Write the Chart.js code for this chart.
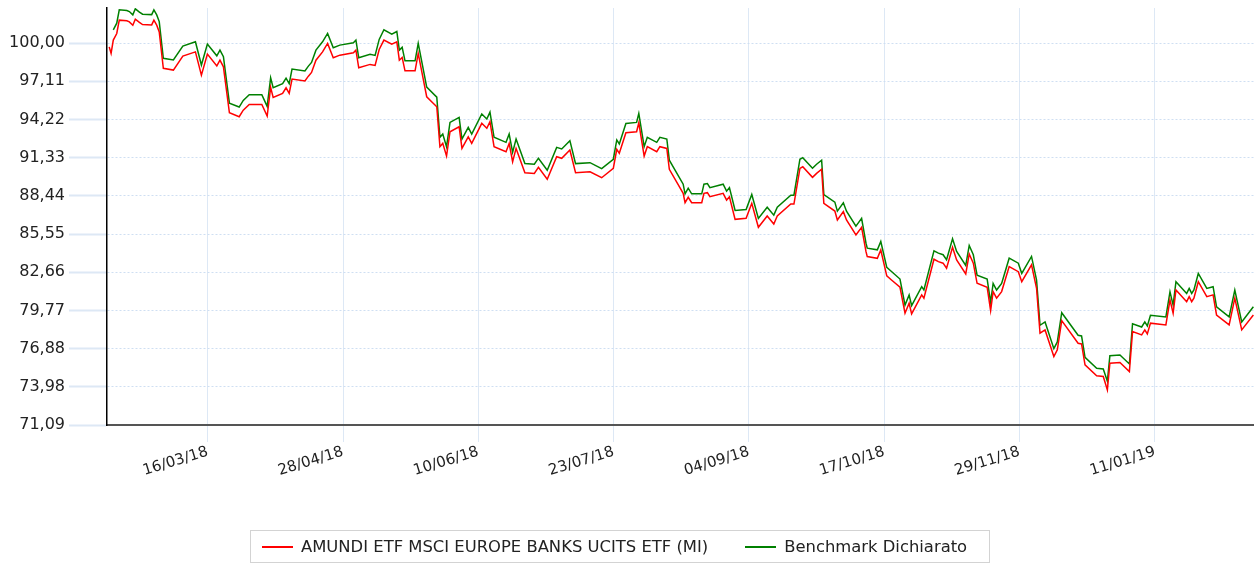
<!DOCTYPE html>
<html>
<head>
<meta charset="utf-8">
<script src="https://cdn.jsdelivr.net/npm/chart.js@4.4.1/dist/chart.umd.min.js"></script>
<style>
  html, body { margin: 0; padding: 0; background: #fff; }
  .wrap { position: relative; width: 1254px; height: 564px; }
  #chart { position: absolute; left: 0; top: 0; }
  .legend {
    position: absolute; left: 250px; top: 530px; width: 740px; height: 33px;
    box-sizing: border-box; border: 1px solid #d3d3d3;
    display: flex; align-items: center; padding-left: 11px;
    font-family: 'DejaVu Sans', sans-serif; font-size: 16.4px; color: #222;
  }
  .legend .sw { width: 31px; height: 2px; margin-right: 8px; }
  .legend .item { display: flex; align-items: center; }
  .legend .item + .item { margin-left: 37px; }
</style>
</head>
<body>
<div class="wrap">
  <canvas id="chart" width="1254" height="564"></canvas>
  <div class="legend" id="legend"></div>
</div>
<script>
// giorni dal 12/02/2018
const days = [
  0.7, 1.3, 2.0, 3.1, 3.9, 6.3, 7.1, 8.2, 9.0, 10.3,
  11.3, 14.2, 14.9, 15.8, 16.6, 17.9, 21.1, 24.1, 28.1, 30.0,
  31.9, 34.9, 35.9, 37.0, 38.9, 42.0, 43.3, 45.2, 49.2, 50.9,
  52.0, 52.8, 55.8, 56.9, 57.9, 58.8, 62.9, 64.0, 65.0, 66.4,
  68.5, 70.1, 71.9, 74.0, 78.3, 79.1, 80.0, 83.6, 85.2, 86.5,
  88.0, 90.5, 92.1, 92.9, 93.8, 94.7, 97.9, 98.9, 101.6, 104.8,
  105.8, 106.7, 107.9, 109.0, 111.9, 112.8, 114.8, 115.9, 119.1, 120.7,
  121.7, 123.0, 126.8, 127.8, 128.9, 130.0, 132.8, 135.8, 137.1, 139.9,
  142.9, 144.5, 147.1, 148.9, 153.5, 157.2, 160.9, 162.0, 162.8, 164.9,
  168.3, 169.0, 170.7, 171.7, 174.7, 175.7, 177.9, 178.7, 183.1, 183.7,
  184.7, 185.8, 189.0, 189.7, 190.8, 191.6, 195.8, 196.9, 197.8, 199.6,
  203.1, 204.9, 207.0, 209.8, 211.9, 213.0, 217.3, 218.3, 220.2, 221.1,
  224.2, 225.5, 227.1, 227.8, 231.3, 232.1, 234.0, 235.0, 238.0, 239.8,
  241.2, 241.6, 244.8, 245.9, 247.8, 249.3, 252.0, 253.6, 254.9, 255.7,
  258.9, 259.6, 262.8, 264.2, 265.7, 266.8, 268.7, 270.0, 272.9, 274.0,
  275.3, 276.5, 279.7, 280.8, 281.6, 282.7, 284.3, 286.7, 289.6, 290.7,
  293.8, 295.4, 296.5, 298.1, 300.9, 302.0, 303.4, 308.6, 309.7, 310.8,
  314.5, 316.6, 317.9, 318.7, 321.9, 324.9, 325.9, 328.8, 329.8, 330.6,
  331.6, 336.5, 337.8, 338.8, 339.7, 343.1, 343.9, 344.7, 345.4, 346.8,
  349.5, 351.5, 352.6, 356.6, 358.4, 360.6, 364.3
];

const fund = [
  99.72, 99.22, 100.23, 100.73, 101.74, 101.69, 101.61, 101.36, 101.82, 101.57,
  101.41, 101.38, 101.74, 101.36, 100.85, 98.09, 97.96, 99.02, 99.34, 97.58,
  99.17, 98.28, 98.71, 98.21, 94.73, 94.43, 94.93, 95.36, 95.36, 94.48,
  96.65, 95.89, 96.20, 96.62, 96.20, 97.28, 97.13, 97.50, 97.78, 98.71,
  99.34, 99.98, 98.89, 99.09, 99.27, 99.47, 98.13, 98.39, 98.31, 99.52,
  100.23, 99.92, 100.10, 98.71, 98.92, 97.90, 97.90, 99.22, 95.94, 95.18,
  92.16, 92.41, 91.45, 93.29, 93.67, 92.03, 92.91, 92.41, 93.93, 93.55,
  94.05, 92.16, 91.78, 92.41, 91.02, 92.03, 90.19, 90.14, 90.60, 89.69,
  91.40, 91.28, 91.91, 90.19, 90.26, 89.81, 90.52, 91.96, 91.66, 93.21,
  93.29, 93.97, 91.45, 92.16, 91.78, 92.16, 92.03, 90.45, 88.63, 87.92,
  88.33, 87.92, 87.92, 88.63, 88.68, 88.37, 88.63, 88.12, 88.37, 86.66,
  86.74, 87.87, 86.06, 86.91, 86.31, 86.91, 87.82, 87.82, 90.52, 90.64,
  89.84, 90.14, 90.45, 87.87, 87.29, 86.61, 87.24, 86.61, 85.48, 86.06,
  84.21, 83.84, 83.71, 84.34, 82.38, 82.07, 81.52, 79.55, 80.31, 79.50,
  80.94, 80.69, 83.64, 83.46, 83.34, 82.96, 84.55, 83.59, 82.53, 84.04,
  83.34, 81.82, 81.52, 79.75, 81.19, 80.69, 81.19, 83.08, 82.70, 81.94,
  83.21, 81.44, 78.04, 78.29, 76.27, 76.78, 78.99, 77.28, 77.23, 75.64,
  74.81, 74.76, 73.75, 75.77, 75.82, 75.14, 78.16, 77.91, 78.29, 77.99,
  78.80, 78.67, 80.56, 79.55, 81.32, 80.43, 80.81, 80.43, 80.69, 81.94,
  80.81, 80.94, 79.42, 78.67, 80.69, 78.29, 79.42
];

const benchmark = [
  null, null, 101.01, 101.51, 102.52, 102.47, 102.39, 102.14, 102.60, 102.35,
  102.19, 102.16, 102.52, 102.14, 101.63, 98.85, 98.72, 99.78, 100.10, 98.34,
  99.93, 99.04, 99.47, 98.97, 95.46, 95.16, 95.66, 96.09, 96.09, 95.21,
  97.38, 96.62, 96.93, 97.35, 96.93, 98.04, 97.89, 98.26, 98.54, 99.47,
  100.10, 100.74, 99.65, 99.85, 100.03, 100.23, 98.89, 99.15, 99.07, 100.28,
  101.01, 100.68, 100.88, 99.47, 99.68, 98.66, 98.66, 99.98, 96.67, 95.91,
  92.87, 93.12, 92.16, 94.00, 94.38, 92.74, 93.62, 93.12, 94.64, 94.26,
  94.78, 92.87, 92.49, 93.12, 91.73, 92.74, 90.88, 90.83, 91.29, 90.38,
  92.11, 91.99, 92.62, 90.88, 90.95, 90.50, 91.21, 92.67, 92.37, 93.92,
  94.00, 94.68, 92.16, 92.87, 92.49, 92.87, 92.74, 91.14, 89.32, 88.59,
  89.02, 88.59, 88.59, 89.32, 89.37, 89.06, 89.32, 88.79, 89.06, 87.33,
  87.41, 88.54, 86.73, 87.58, 86.98, 87.58, 88.49, 88.49, 91.21, 91.33,
  90.53, 90.83, 91.14, 88.54, 87.96, 87.28, 87.91, 87.28, 86.15, 86.73,
  84.85, 84.48, 84.35, 84.98, 83.02, 82.71, 82.14, 80.17, 80.93, 80.12,
  81.56, 81.31, 84.28, 84.10, 83.98, 83.60, 85.19, 84.23, 83.17, 84.68,
  83.98, 82.44, 82.14, 80.37, 81.81, 81.31, 81.81, 83.72, 83.34, 82.56,
  83.85, 82.06, 78.64, 78.89, 76.87, 77.38, 79.59, 77.88, 77.83, 76.21,
  75.38, 75.33, 74.40, 76.34, 76.39, 75.71, 78.76, 78.51, 78.89, 78.59,
  79.40, 79.27, 81.18, 80.17, 81.94, 81.05, 81.43, 81.05, 81.31, 82.56,
  81.43, 81.56, 80.04, 79.27, 81.31, 78.89, 80.04
];

const tickDays = [32, 75, 118, 161, 204, 247, 290, 333];
const tickLabels = ['16/03/18', '28/04/18', '10/06/18', '23/07/18', '04/09/18', '17/10/18', '29/11/18', '11/01/19'];
const yTicks = [71.09, 73.98, 76.88, 79.77, 82.66, 85.55, 88.44, 91.33, 94.22, 97.11, 100.00];

const seriesNames = ['AMUNDI ETF MSCI EUROPE BANKS UCITS ETF (MI)', 'Benchmark Dichiarato'];
const seriesColors = ['#ff0000', '#008000'];

const font = { family: "'DejaVu Sans', sans-serif", size: 16 };

new Chart(document.getElementById('chart'), {
  type: 'line',
  data: {
    datasets: [
      {
        label: seriesNames[0],
        data: days.map((d, i) => ({ x: d, y: fund[i] })),
        borderColor: seriesColors[0],
        borderWidth: 1.5,
        pointRadius: 0,
        fill: false,
        tension: 0
      },
      {
        label: seriesNames[1],
        data: days.map((d, i) => ({ x: d, y: benchmark[i] })),
        borderColor: seriesColors[1],
        borderWidth: 1.5,
        pointRadius: 0,
        fill: false,
        tension: 0
      }
    ]
  },
  options: {
    responsive: false,
    animation: false,
    layout: { padding: { top: 8, left: 0, right: 0, bottom: 0 } },
    plugins: {
      legend: { display: false },
      tooltip: { enabled: false }
    },
    scales: {
      x: {
        type: 'linear',
        min: 0,
        max: 364.5,
        afterBuildTicks: s => { s.ticks = tickDays.map(v => ({ value: v })); },
        afterFit: s => { s.height = 139; s.paddingLeft = 0; s.paddingRight = 0; },
        grid: { color: '#dde8f5', lineWidth: 1, tickLength: 17, tickColor: '#dde8f5' },
        border: { color: '#555', width: 2 },
        ticks: {
          autoSkip: false,
          minRotation: 17,
          maxRotation: 17,
          padding: 1,
          color: '#222',
          font: { family: font.family, size: 15 },
          callback: (v, i) => tickLabels[i]
        }
      },
      y: {
        min: 71.09,
        max: 102.66,
        afterBuildTicks: s => { s.ticks = yTicks.map(v => ({ value: v })); },
        afterFit: s => { s.width = 107; s.paddingTop = 0; s.paddingBottom = 0; },
        grid: {
          color: '#cfdff2',
          tickLength: 38,
          tickColor: '#dde8f5',
          tickWidth: 2,
          tickBorderDash: []
        },
        // in v4 il tratteggio delle griglie sta in border.dash
        border: { color: '#000', width: 1.5, dash: [2, 2] },
        ticks: {
          padding: 4,
          color: '#222',
          font: font,
          callback: v => v.toFixed(2).replace('.', ',')
        }
      }
    }
  }
});

// legenda sotto il grafico, con bordo
const legend = document.getElementById('legend');
seriesNames.forEach((name, i) => {
  const item = document.createElement('div');
  item.className = 'item';
  const sw = document.createElement('span');
  sw.className = 'sw';
  sw.style.background = seriesColors[i];
  const txt = document.createElement('span');
  txt.textContent = name;
  item.appendChild(sw);
  item.appendChild(txt);
  legend.appendChild(item);
});
</script>
</body>
</html>
